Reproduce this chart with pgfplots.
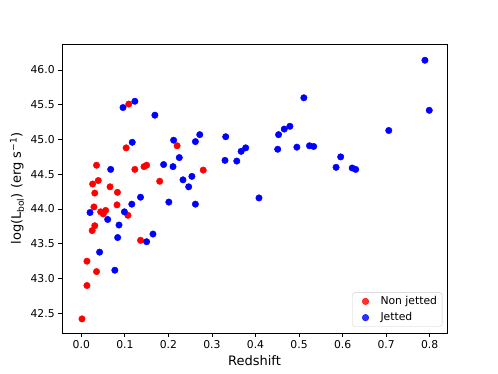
\documentclass[border=0pt]{standalone}
\usepackage{fontspec}
\setmainfont{DejaVu Sans}
\usepackage{pgfplots}
\pgfplotsset{compat=1.18}

\begin{document}
\begin{tikzpicture}
% figure frame: 498 x 374, axis box at (62,44)-(447,333)
\useasboundingbox (-62pt,-41pt) rectangle (436pt,333pt);
\begin{axis}[
  scale only axis,
  width=385pt, height=289pt,
  xmin=-0.0443, xmax=0.8397,
  ymin=42.217, ymax=46.374,
  xtick={0,0.1,0.2,0.3,0.4,0.5,0.6,0.7,0.8},
  ytick={42.5,43,43.5,44,44.5,45,45.5,46},
  xtick pos=left, ytick pos=left,
  tick align=outside,
  major tick length=3.8pt,
  tick style={black, line width=0.85pt},
  axis line style={line width=0.85pt},
  ticklabel style={font=\fontsize{10.8}{12}\selectfont},
  /pgf/number format/assume math mode=true,
  xticklabel style={/pgf/number format/.cd, fixed, fixed zerofill, precision=1},
  yticklabel style={/pgf/number format/.cd, fixed, fixed zerofill, precision=1},
  xlabel={Redshift},
  ylabel={log(L\textsubscript{bol}) (erg s\textsuperscript{−1})},
  label style={font=\fontsize{13}{15}\selectfont},
  xlabel style={at={(axis description cs:0.5,-0.094)}, anchor=center},
  ylabel style={at={(axis description cs:-0.117,0.5)}, anchor=center},
  legend style={
    at={(axis description cs:1,0)}, anchor=south east,
    xshift=-4.7pt, yshift=6.3pt,
    draw=black!20, rounded corners=2.5pt,
    fill=white, fill opacity=0.8, text opacity=1,
    font=\fontsize{10.8}{12}\selectfont,
    row sep=2.5pt, inner xsep=3pt, inner ysep=2pt
  },
  legend cell align=left,
  legend image code/.code={
    \path[draw=none, fill=none] (-10pt,0pt) (13pt,0pt);
    \draw[#1] plot coordinates {(0pt,0pt)};
  },
]

% Non jetted
\addplot[only marks, mark=*, mark size=3.25pt, color=red] coordinates {
  (0.109,45.51) (0.103,44.88) (0.220,44.91) (0.035,44.63) (0.123,44.57)
  (0.144,44.61) (0.150,44.63) (0.280,44.56) (0.180,44.40) (0.026,44.36)
  (0.039,44.41) (0.031,44.23) (0.066,44.32) (0.083,44.24) (0.029,44.03)
  (0.082,44.06) (0.0445,43.96) (0.0505,43.93) (0.056,43.98) (0.107,43.91)
  (0.031,43.76) (0.025,43.69) (0.136,43.55) (0.013,43.25) (0.035,43.10)
  (0.013,42.90) (0.0016,42.42)
};
\addlegendentry{Non jetted}

% Jetted
\addplot[only marks, mark=*, mark size=3.25pt, color=blue] coordinates {
  (0.0958,45.46) (0.123,45.55) (0.169,45.35) (0.117,44.96) (0.212,44.99)
  (0.225,44.74) (0.272,45.07) (0.262,44.97) (0.0675,44.57) (0.189,44.64)
  (0.2106,44.61) (0.2335,44.42) (0.254,44.47) (0.2466,44.32) (0.136,44.17)
  (0.201,44.10) (0.116,44.07) (0.262,44.07) (0.020,43.95) (0.099,43.96)
  (0.0606,43.85) (0.0866,43.77) (0.0835,43.59) (0.150,43.53) (0.1646,43.64)
  (0.042,43.38) (0.077,43.12) (0.511,45.60) (0.3316,45.04) (0.453,45.07)
  (0.466,45.15) (0.479,45.19) (0.367,44.83) (0.3775,44.88) (0.451,44.86)
  (0.495,44.89) (0.524,44.91) (0.5336,44.90) (0.330,44.70) (0.357,44.69)
  (0.5956,44.75) (0.585,44.60) (0.622,44.59) (0.630,44.57) (0.408,44.16)
  (0.789,46.14) (0.799,45.42) (0.706,45.13)
};
\addlegendentry{Jetted}

\end{axis}
\end{tikzpicture}
\end{document}
